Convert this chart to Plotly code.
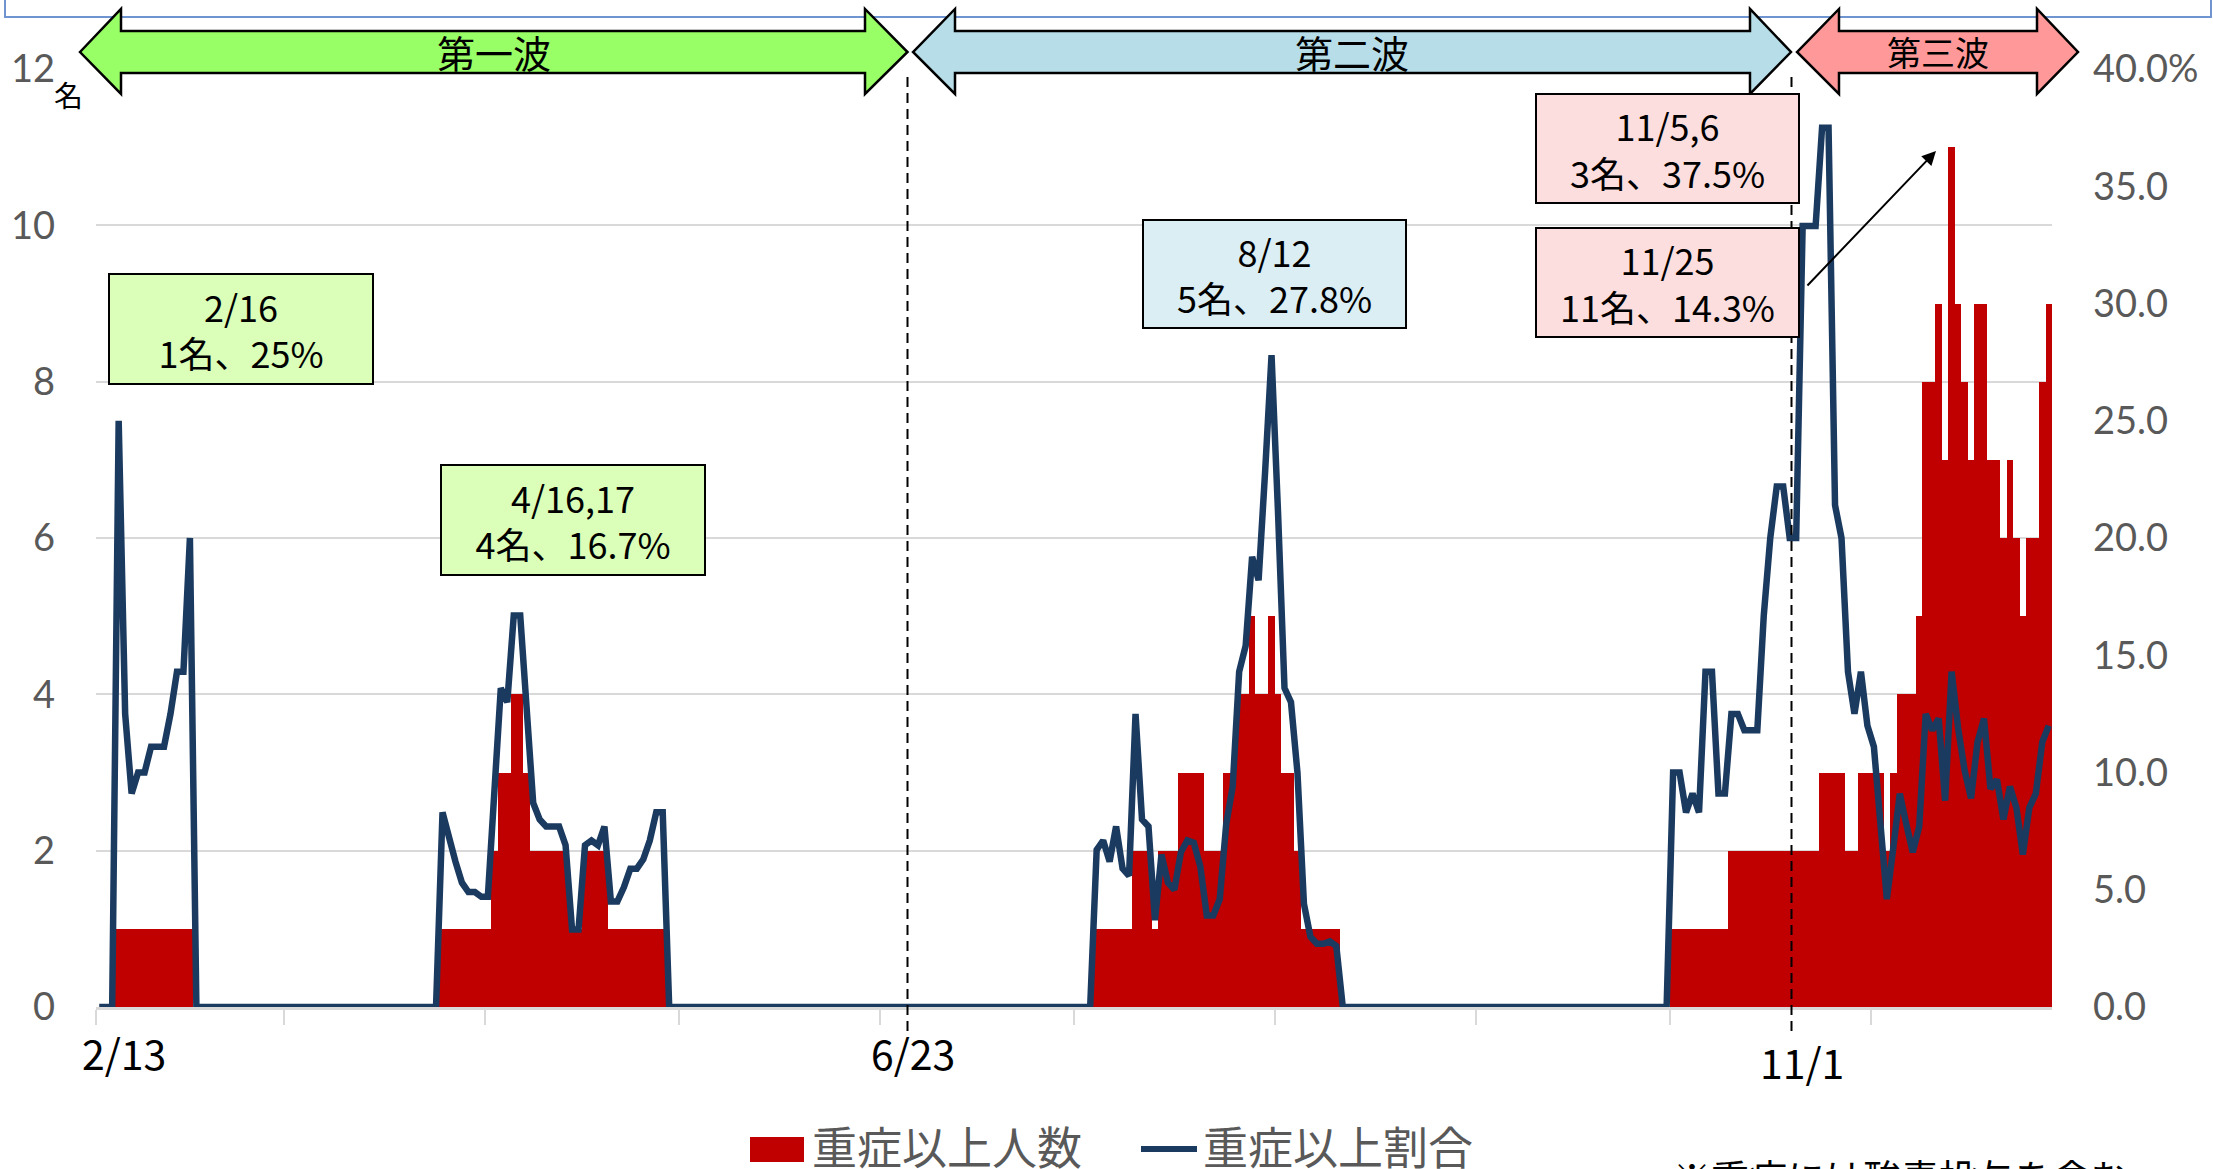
import pandas as pd
import plotly.graph_objects as go

# ---- data: daily severe cases (persons) and severe ratio (%), 2020-02-13 .. 2020-12-10 ----
start_date = "2020-02-13"
end_date = "2020-12-10"

count_feb = [0, 0, 0, 1, 1, 1, 1, 1, 1, 1, 1, 1, 1, 1, 1, 0, 0]
count_mar = [0, 0, 0, 0, 0, 0, 0, 0, 0, 0, 0, 0, 0, 0, 0, 0, 0, 0, 0, 0, 0, 0, 0, 0, 0, 0, 0, 0, 0, 0, 0]
count_apr = [0, 0, 0, 0, 0, 1, 1, 1, 1, 1, 1, 1, 1, 2, 3, 3, 4, 4, 3, 2, 2, 2, 2, 2, 2, 1, 1, 2, 2, 2]
count_may = [2, 1, 1, 1, 1, 1, 1, 1, 1, 1, 0, 0, 0, 0, 0, 0, 0, 0, 0, 0, 0, 0, 0, 0, 0, 0, 0, 0, 0, 0, 0]
count_jun = [0, 0, 0, 0, 0, 0, 0, 0, 0, 0, 0, 0, 0, 0, 0, 0, 0, 0, 0, 0, 0, 0, 0, 0, 0, 0, 0, 0, 0, 0]
count_jul = [0, 0, 0, 0, 0, 0, 0, 0, 0, 0, 0, 0, 0, 0, 0, 1, 1, 1, 1, 1, 1, 2, 2, 2, 1, 2, 2, 2, 3, 3, 3]
count_aug = [3, 2, 2, 2, 3, 3, 4, 4, 5, 4, 4, 5, 4, 3, 3, 2, 1, 1, 1, 1, 1, 1, 0, 0, 0, 0, 0, 0, 0, 0, 0]
count_sep = [0, 0, 0, 0, 0, 0, 0, 0, 0, 0, 0, 0, 0, 0, 0, 0, 0, 0, 0, 0, 0, 0, 0, 0, 0, 0, 0, 0, 0, 0]
count_oct = [0, 0, 0, 0, 0, 0, 0, 0, 0, 0, 0, 0, 1, 1, 1, 1, 1, 1, 1, 1, 1, 2, 2, 2, 2, 2, 2, 2, 2, 2, 2]
count_nov = [2, 2, 2, 2, 3, 3, 3, 3, 2, 2, 3, 3, 3, 3, 2, 3, 4, 4, 4, 5, 8, 8, 9, 7, 11, 9, 8, 7, 9, 9]
count_dec = [7, 7, 6, 7, 6, 5, 6, 6, 8, 9]

ratio_feb = [0, 0, 0, 25.0, 12.5, 9.1, 10.0, 10.0, 11.1, 11.1, 11.1, 12.5, 14.3, 14.3, 20.0, 0, 0]
ratio_mar = [0, 0, 0, 0, 0, 0, 0, 0, 0, 0, 0, 0, 0, 0, 0, 0, 0, 0, 0, 0, 0, 0, 0, 0, 0, 0, 0, 0, 0, 0, 0]
ratio_apr = [0, 0, 0, 0, 0, 8.3, 7.1, 6.2, 5.3, 4.9, 4.9, 4.7, 4.7, 9.5, 13.6, 13.0, 16.7, 16.7, 13.0,
             8.7, 8.0, 7.7, 7.7, 7.7, 6.9, 3.3, 3.3, 6.9, 7.1, 6.9]
ratio_may = [7.7, 4.5, 4.5, 5.1, 5.9, 5.9, 6.3, 7.1, 8.3, 8.3, 0, 0, 0, 0, 0, 0, 0, 0, 0, 0, 0,
             0, 0, 0, 0, 0, 0, 0, 0, 0, 0]
ratio_jun = [0, 0, 0, 0, 0, 0, 0, 0, 0, 0, 0, 0, 0, 0, 0, 0, 0, 0, 0, 0, 0, 0, 0, 0, 0, 0, 0, 0, 0, 0]
ratio_jul = [0, 0, 0, 0, 0, 0, 0, 0, 0, 0, 0, 0, 0, 0, 0, 6.7, 7.1, 6.2, 7.7, 5.9, 5.6, 12.5, 8.0,
             7.7, 3.7, 6.5, 5.3, 5.0, 6.6, 7.1, 7.0]
ratio_aug = [6.0, 3.9, 3.9, 4.6, 7.8, 9.4, 14.3, 15.4, 19.2, 18.2, 22.8, 27.8, 21.1, 13.6, 13.0, 10.0,
             4.4, 3.0, 2.7, 2.7, 2.8, 2.6, 0, 0, 0, 0, 0, 0, 0, 0, 0]
ratio_sep = [0, 0, 0, 0, 0, 0, 0, 0, 0, 0, 0, 0, 0, 0, 0, 0, 0, 0, 0, 0, 0, 0, 0, 0, 0, 0, 0, 0, 0, 0]
ratio_oct = [0, 0, 0, 0, 0, 0, 0, 0, 0, 0, 0, 0, 10.0, 10.0, 8.3, 9.1, 8.3, 14.3, 14.3, 9.1, 9.1,
             12.5, 12.5, 11.8, 11.8, 11.8, 16.7, 20.0, 22.2, 22.2, 20.0]
ratio_nov = [20.0, 33.3, 33.3, 33.3, 37.5, 37.5, 21.4, 20.0, 14.3, 12.5, 14.3, 12.0, 11.1, 8.1, 4.6,
             6.8, 9.1, 7.8, 6.6, 7.7, 12.5, 11.8, 12.3, 8.8, 14.3, 11.9, 10.1, 8.9, 11.3, 12.3]
ratio_dec = [9.3, 9.7, 8.0, 9.4, 8.5, 6.5, 8.5, 9.1, 11.3, 12.0]

severe_count = (count_feb + count_mar + count_apr + count_may + count_jun + count_jul
                + count_aug + count_sep + count_oct + count_nov + count_dec)
severe_ratio = (ratio_feb + ratio_mar + ratio_apr + ratio_may + ratio_jun + ratio_jul
                + ratio_aug + ratio_sep + ratio_oct + ratio_nov + ratio_dec)
dates = pd.date_range(start_date, end_date, freq="D")

month_ticks = ["2020-02-13", "2020-03-13", "2020-04-13", "2020-05-13", "2020-06-13",
               "2020-07-13", "2020-08-13", "2020-09-13", "2020-10-13", "2020-11-13"]
count_ticks = [0, 2, 4, 6, 8, 10, 12]
ratio_ticks = [0, 5, 10, 15, 20, 25, 30, 35, 40]
ratio_ticktext = ["0.0", "5.0", "10.0", "15.0", "20.0", "25.0", "30.0", "35.0", "40.0%"]

waves = ["第一波", "第二波", "第三波"]
date_marks = ["2/13", "6/23", "11/1"]
callouts = [
    "2/16<br>1名、25%",
    "4/16,17<br>4名、16.7%",
    "8/12<br>5名、27.8%",
    "11/5,6<br>3名、37.5%",
    "11/25<br>11名、14.3%",
]
legend_names = ["重症以上人数", "重症以上割合"]
footnote = "※重症には酸素投与を含む"

# ---- geometry helpers (page pixels -> paper coordinates) ----
W, H = 2213, 1169
PL, PR, PT, PB = 96, 2052, 69, 1007


def px(x):
    return (x - PL) / (PR - PL)


def py(y):
    return (PB - y) / (PB - PT)


RED = "#C00000"
NAVY = "#1B3A5F"
GRID = "#D9D9D9"
TICK_GREY = "#595959"
JP = "Noto Sans CJK JP"
DAY_MS = 86400000

fig = go.Figure()
fig.add_trace(go.Bar(
    x=dates, y=severe_count, name=legend_names[0],
    marker=dict(color=RED, line=dict(width=0)),
    width=DAY_MS, xperiod=DAY_MS, xperiodalignment="middle",
))
fig.add_trace(go.Scatter(
    x=dates, y=severe_ratio, name=legend_names[1], yaxis="y2", mode="lines",
    line=dict(color=NAVY, width=6.5),
    xperiod=DAY_MS, xperiodalignment="middle",
))

fig.update_layout(
    width=W, height=H,
    margin=dict(l=PL, r=W - PR, t=PT, b=H - PB, autoexpand=False),
    paper_bgcolor="white", plot_bgcolor="white",
    showlegend=False, bargap=0,
    xaxis=dict(
        type="date", range=["2020-02-13", "2020-12-11"],
        tickvals=month_ticks, showticklabels=False,
        ticks="outside", ticklen=15, tickwidth=2, tickcolor=GRID,
        showgrid=False, showline=True, linecolor=GRID, linewidth=3, zeroline=False,
    ),
    yaxis=dict(
        range=[0, 12], tickvals=count_ticks, ticks="",
        showgrid=True, gridcolor=GRID, gridwidth=2, zeroline=False, showline=False,
        tickfont=dict(family="Lato", size=38, color=TICK_GREY),
        ticklabelstandoff=40,
    ),
    yaxis2=dict(
        overlaying="y", side="right", range=[0, 40],
        tickvals=ratio_ticks, ticktext=ratio_ticktext, ticks="",
        showgrid=False, zeroline=False, showline=False,
        tickfont=dict(family="Lato", size=38, color=TICK_GREY),
        ticklabelstandoff=40,
    ),
)

shapes = []

# thin frame edge along the top of the page
shapes.append(dict(type="rect", xref="paper", yref="paper",
                   x0=px(5), x1=px(2211), y0=py(-10), y1=py(17),
                   line=dict(color="#7094D0", width=2), fillcolor="rgba(0,0,0,0)", layer="above"))


def double_arrow(xl, xlb, xrb, xr, fill):
    yc, ytop, ybot, bt, bb = 52, 9, 94, 31, 73
    pts = [(xl, yc), (xlb, ytop), (xlb, bt), (xrb, bt), (xrb, ytop), (xr, yc),
           (xrb, ybot), (xrb, bb), (xlb, bb), (xlb, ybot)]
    path = "M " + " L ".join(f"{px(x):.5f},{py(y):.5f}" for x, y in pts) + " Z"
    return dict(type="path", xref="paper", yref="paper", path=path,
                fillcolor=fill, line=dict(color="black", width=2.5), layer="above")


wave_arrows = [(80, 121, 865, 907.5, "#99FF66"),
               (913, 955, 1750, 1791, "#B7DEE8"),
               (1797, 1839, 2037, 2078, "#FF9999")]
for xl, xlb, xrb, xr, fill in wave_arrows:
    shapes.append(double_arrow(xl, xlb, xrb, xr, fill))

# wave boundaries
for xb in (907.5, 1791.5):
    shapes.append(dict(type="line", xref="paper", yref="paper",
                       x0=px(xb), x1=px(xb), y0=py(77), y1=py(1035),
                       line=dict(color="black", width=2, dash="10px,6px"), layer="above"))

# legend keys
shapes.append(dict(type="rect", xref="paper", yref="paper",
                   x0=px(750), x1=px(804), y0=py(1162), y1=py(1137),
                   fillcolor=RED, line=dict(width=0), layer="above"))
shapes.append(dict(type="line", xref="paper", yref="paper",
                   x0=px(1141), x1=px(1197), y0=py(1149), y1=py(1149),
                   line=dict(color=NAVY, width=6), layer="above"))

fig.update_layout(shapes=shapes)

annotations = []

# wave names
for (xl, xlb, xrb, xr, fill), label, size in zip(wave_arrows, waves, (38, 38, 34)):
    annotations.append(dict(x=px((xl + xr) / 2), y=py(52), xref="paper", yref="paper",
                            text=label, showarrow=False, xanchor="center", yanchor="middle",
                            font=dict(family=JP, size=size, color="black")))

# call-out boxes
boxes = [((108, 273, 374, 385), "#DBFFB8"),
         ((440, 464, 706, 576), "#DBFFB8"),
         ((1142, 219, 1407, 329), "#DAEEF3"),
         ((1535, 93, 1800, 204), "#FDDEDE"),
         ((1535, 227, 1800, 338), "#FDDEDE")]
for ((x0, y0, x1, y1), fill), text in zip(boxes, callouts):
    annotations.append(dict(x=px((x0 + x1) / 2), y=py((y0 + y1) / 2), xref="paper", yref="paper",
                            text=text, showarrow=False, xanchor="center", yanchor="middle",
                            width=x1 - x0 - 4, height=y1 - y0 - 4, align="center", valign="middle",
                            bgcolor=fill, bordercolor="black", borderwidth=2, borderpad=0,
                            font=dict(family=JP, size=36, color="black")))

# pointer from the 11/25 box to its bar
tail_x, tail_y, head_x, head_y = 1806, 287, 1936, 151
annotations.append(dict(x=px(head_x), y=py(head_y), xref="paper", yref="paper",
                        ax=tail_x - head_x, ay=tail_y - head_y, axref="pixel", ayref="pixel",
                        text="", showarrow=True, arrowhead=2, arrowsize=1.4,
                        arrowwidth=2, arrowcolor="black", standoff=0, startstandoff=0))

# date marks under the axis
for (xc, yc), label in zip([(124, 1052), (913, 1052), (1802, 1061)], date_marks):
    annotations.append(dict(x=px(xc), y=py(yc), xref="paper", yref="paper", text=label,
                            showarrow=False, xanchor="center", yanchor="middle",
                            font=dict(family=JP, size=41, color="black")))

# unit of the left axis
annotations.append(dict(x=px(68), y=py(94), xref="paper", yref="paper", text="名",
                        showarrow=False, xanchor="center", yanchor="middle",
                        font=dict(family=JP, size=29, color="black")))

# legend labels
for xl, label in zip((811, 1202), legend_names):
    annotations.append(dict(x=px(xl), y=py(1145), xref="paper", yref="paper", text=label,
                            showarrow=False, xanchor="left", yanchor="middle", borderpad=0,
                            font=dict(family=JP, size=45, color=TICK_GREY)))

# footnote along the bottom edge
annotations.append(dict(x=px(1672), y=py(1147), xref="paper", yref="paper", text=footnote,
                        showarrow=False, xanchor="left", yanchor="top", borderpad=0,
                        font=dict(family=JP, size=38, color="black")))

fig.update_layout(annotations=annotations)

fig.write_html("out.html")
